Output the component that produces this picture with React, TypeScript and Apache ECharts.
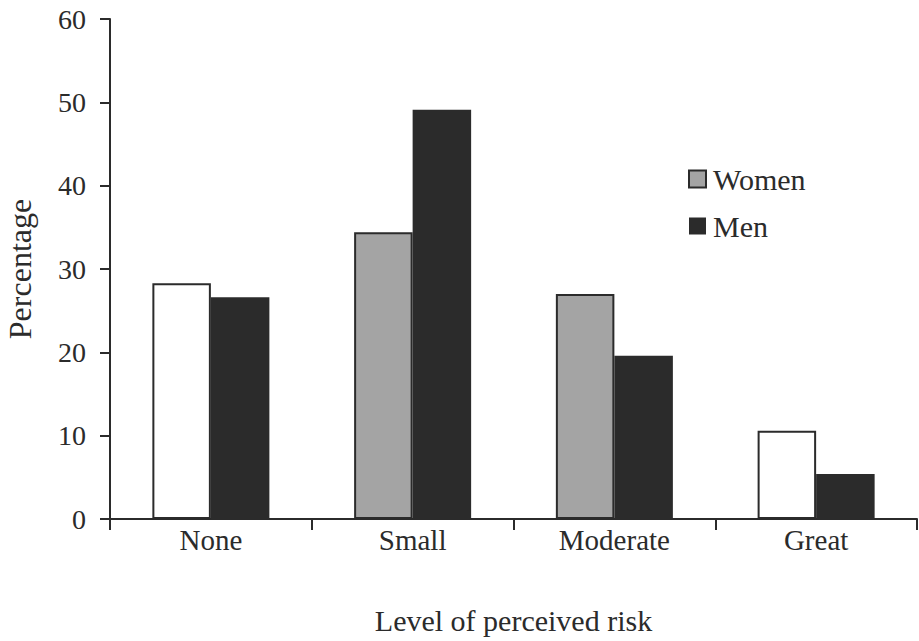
import React, { useEffect, useRef } from "react";
import * as echarts from "echarts";

const categories = ["None", "Small", "Moderate", "Great"];
const women = [28.3, 34.4, 27.0, 10.6];
const men = [26.6, 49.1, 19.6, 5.4];
const yTicks = { min: 0, max: 60, interval: 10 };

const INK = "#2b2b2b";
const FONT = "Liberation Serif";
// appearance of women's bars in the scanned figure (stipple shows as gray or white)
const womenFill = ["#ffffff", "#a4a4a4", "#a4a4a4", "#ffffff"];

export default function App() {
  const ref = useRef<HTMLDivElement>(null);
  useEffect(() => {
    const chart = echarts.init(ref.current!, null, { renderer: "svg" });
    chart.setOption({
      animation: false,
      backgroundColor: "#ffffff",
      grid: { left: 110, right: 2, top: 19, bottom: 122, containLabel: false, outerBoundsMode: "none" },
      legend: {
        orient: "vertical",
        left: 683,
        top: 159,
        itemWidth: 17,
        itemHeight: 17,
        itemGap: 17,
        icon: "rect",
        textStyle: { fontFamily: FONT, fontSize: 30, color: INK, padding: [0, 0, 0, 2] },
        data: [
          { name: "Women", itemStyle: { color: "#a4a4a4", borderColor: INK, borderWidth: 2 } },
          { name: "Men", itemStyle: { color: INK } },
        ],
      },
      xAxis: {
        type: "category",
        data: categories,
        boundaryGap: true,
        name: "Level of perceived risk",
        nameLocation: "middle",
        nameGap: 86,
        nameTextStyle: { fontFamily: FONT, fontSize: 30, color: INK },
        axisLine: { lineStyle: { color: INK, width: 2 } },
        axisTick: { show: true, length: 11, alignWithLabel: false, lineStyle: { color: INK, width: 2 } },
        axisLabel: { fontFamily: FONT, fontSize: 29, color: INK, margin: 6 },
      },
      yAxis: {
        type: "value",
        min: yTicks.min,
        max: yTicks.max,
        interval: yTicks.interval,
        name: "Percentage",
        nameLocation: "middle",
        nameGap: 74,
        nameTextStyle: { fontFamily: FONT, fontSize: 32, color: INK },
        axisLine: { show: true, lineStyle: { color: INK, width: 2 } },
        axisTick: { show: true, length: 10, lineStyle: { color: INK, width: 2 } },
        axisLabel: { fontFamily: FONT, fontSize: 28, color: INK, margin: 24 },
        splitLine: { show: false },
      },
      series: [
        {
          name: "Women",
          type: "bar",
          barGap: "0%",
          barCategoryGap: "42%",
          data: women.map((v, i) => ({
            value: v,
            itemStyle: { color: womenFill[i], borderColor: INK, borderWidth: 2 },
          })),
          itemStyle: { color: "#a4a4a4", borderColor: INK, borderWidth: 2 },
        },
        {
          name: "Men",
          type: "bar",
          barGap: "0%",
          barCategoryGap: "42%",
          data: men,
          itemStyle: { color: INK },
        },
      ],
    });
    return () => chart.dispose();
  }, []);
  return <div ref={ref} style={{ width: 919, height: 641, position: "absolute", left: 0, top: 0 }} />;
}
